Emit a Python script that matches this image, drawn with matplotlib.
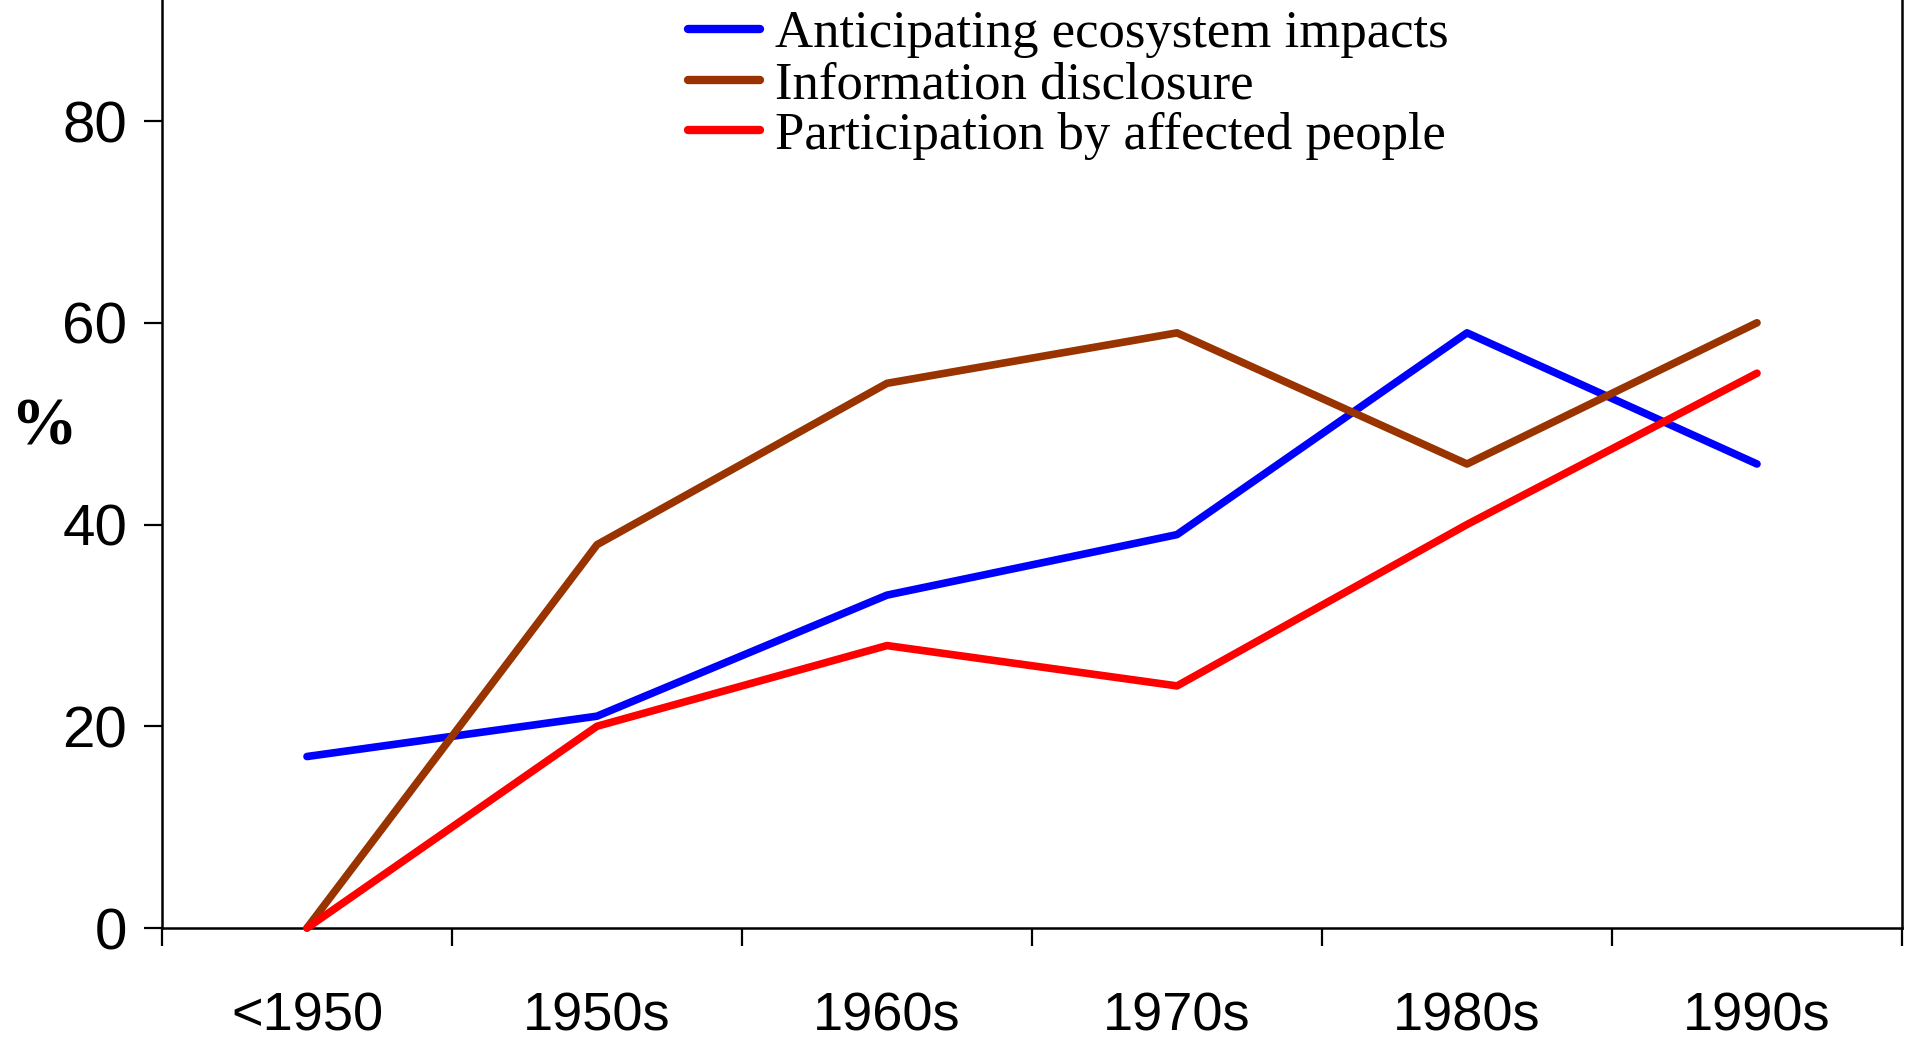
import matplotlib
matplotlib.use("Agg")
import matplotlib.pyplot as plt

categories = ["<1950", "1950s", "1960s", "1970s", "1980s", "1990s"]
ecosystem = [17, 21, 33, 39, 59, 46]
disclosure = [0, 38, 54, 59, 46, 60]
participation = [0, 20, 28, 24, 40, 55]
labels = ["Anticipating ecosystem impacts", "Information disclosure",
          "Participation by affected people"]
yticks = [0, 20, 40, 60, 80]

W, H = 1908, 1040
fig = plt.figure(figsize=(W / 100, H / 100), dpi=100)
ax = fig.add_axes([162 / W, 1 - 928 / H, (1902 - 162) / W, 928 / H])

x = [i + 0.5 for i in range(len(categories))]
series = [ecosystem, disclosure, participation]
colors = ["#0000FF", "#993300", "#FF0000"]
for vals, c, lab in zip(series, colors, labels):
    ax.plot(x, vals, color=c, lw=5.5, solid_capstyle="round",
            solid_joinstyle="round", label=lab, clip_on=False, zorder=3)

ax.set_xlim(0, len(categories))
ax.set_ylim(0, 92)

for s in ["left", "right", "bottom"]:
    ax.spines[s].set_linewidth(1.8)
ax.spines["top"].set_visible(False)

ax.set_yticks(yticks)
ax.set_yticklabels([str(v) for v in yticks])
ax.tick_params(axis="y", which="major", direction="out", length=13, width=1.6,
               pad=12, labelsize=42, right=False)
for t in ax.get_yticklabels():
    t.set_fontfamily("Liberation Sans")

ax.set_xticks(range(len(categories) + 1))
ax.set_xticklabels([])
ax.tick_params(axis="x", which="major", direction="out", length=13, width=1.6)
ax.set_xticks(x, minor=True)
ax.set_xticklabels(categories, minor=True)
ax.tick_params(axis="x", which="minor", length=0, pad=46, labelsize=39)
for t in ax.get_xticklabels(minor=True):
    t.set_fontfamily("Liberation Sans")

fig.text(43 / W, 1 - 428 / H, "%", family="Liberation Serif", weight="bold",
         fontsize=48, ha="center", va="center")

leg = ax.legend(loc="upper left", bbox_to_anchor=(688 / W, 0.990),
                bbox_transform=fig.transFigure, frameon=False,
                prop={"family": "Liberation Serif", "size": 38},
                handlelength=1.36, handletextpad=0.28, labelspacing=0.05,
                borderpad=0, borderaxespad=0)
for lh in leg.get_lines():
    lh.set_linewidth(6)
    lh.set_solid_capstyle("round")

fig.savefig("out.png", dpi=100)
